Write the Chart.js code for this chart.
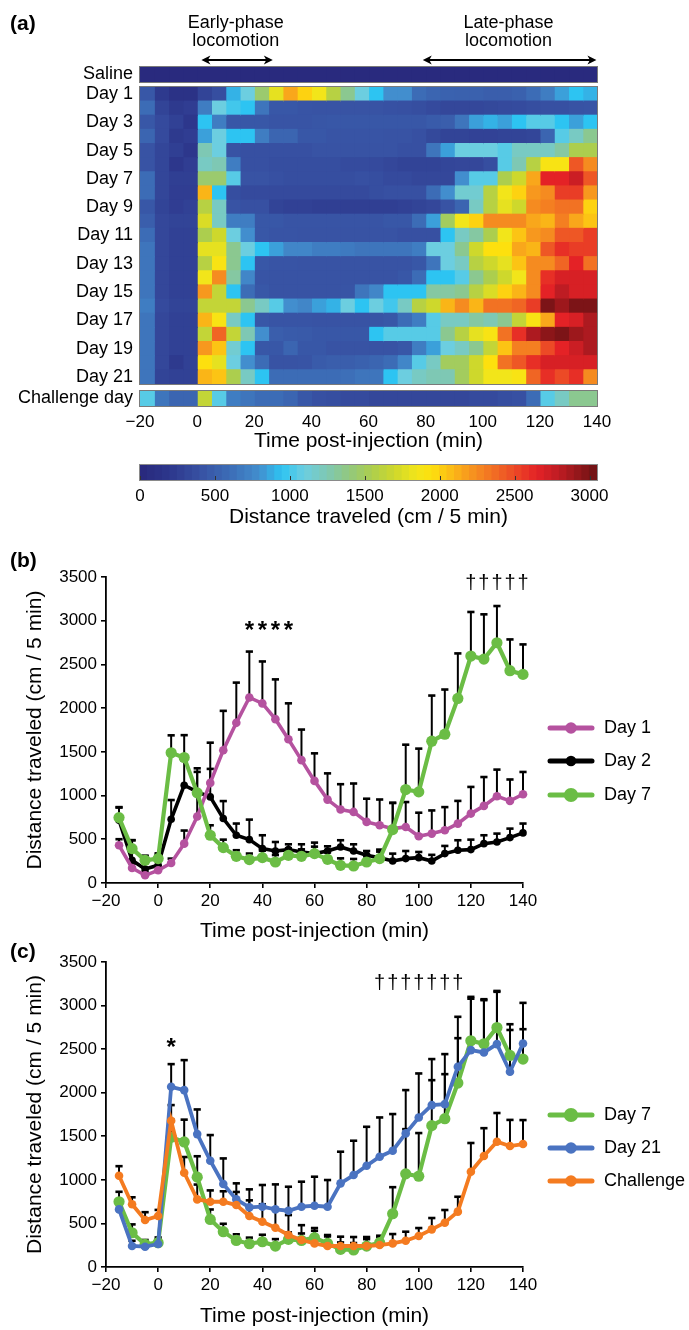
<!DOCTYPE html>
<html><head><meta charset="utf-8">
<script src="https://cdn.jsdelivr.net/npm/chart.js@4.4.1/dist/chart.umd.min.js"></script>
<style>
html,body{margin:0;padding:0;background:#fff;}
#wrap{position:relative;width:689px;height:1330px;overflow:hidden;font-family:'Liberation Sans',Arial,Helvetica,sans-serif;background:#fff;}
canvas{position:absolute;left:0;top:0;}
.plabel{position:absolute;left:10px;font-weight:bold;font-size:21px;line-height:1;color:#000;}
</style></head>
<body><div id="wrap">
<canvas id="cSaline" width="689" height="1330"></canvas>
<canvas id="cMain" width="689" height="1330"></canvas>
<canvas id="cChal" width="689" height="1330"></canvas>
<canvas id="cBar" width="689" height="1330"></canvas>
<canvas id="cB" width="689" height="1330"></canvas>
<canvas id="cC" width="689" height="1330"></canvas>
<div class="plabel" style="top:12px">(a)</div>
<div class="plabel" style="top:549px">(b)</div>
<div class="plabel" style="top:940px">(c)</div>
</div>
<script>
// ---------------- DATA ----------------
const timePoints = [-15,-10,-5,0,5,10,15,20,25,30,35,40,45,50,55,60,65,70,75,80,85,90,95,100,105,110,115,120,125,130,135,140];
const binStarts  = [-20,-15,-10,-5,0,5,10,15,20,25,30,35,40,45,50,55,60,65,70,75,80,85,90,95,100,105,110,115,120,125,130,135];
const timeTicks  = [-20,0,20,40,60,80,100,120,140];
const distTicks  = [0,500,1000,1500,2000,2500,3000,3500];
const dayLabels  = ['Day 1','Day 2','Day 3','Day 4','Day 5','Day 6','Day 7','Day 8','Day 9','Day 10','Day 11','Day 12','Day 13','Day 14','Day 15','Day 16','Day 17','Day 18','Day 19','Day 20','Day 21'];

// heatmap (cm / 5 min), one value per 5-min bin
const hmSaline = [30,30,30,30,30,30,30,30,30,30,30,30,30,30,30,30,30,30,30,30,30,30,30,30,30,30,30,30,30,30,30,30];
const hmDay01 = [450,220,130,130,300,380,900,1100,1450,1800,2150,2000,1850,1600,1350,1100,950,800,800,600,550,530,520,520,500,500,520,600,700,850,950,900];
const hmDay02 = [600,300,220,250,700,1100,1000,950,650,450,450,430,420,420,420,420,420,410,400,380,350,330,330,330,340,350,360,380,400,400,420,430];
const hmDay03 = [450,350,280,200,950,700,450,450,450,430,430,430,440,450,450,450,450,450,450,450,480,500,650,850,900,850,950,1050,1050,950,850,950];
const hmDay04 = [550,350,220,250,850,1100,950,950,700,550,550,450,450,430,430,430,430,420,420,400,340,300,300,290,290,300,300,320,550,1050,1200,1350];
const hmDay05 = [420,320,260,200,1250,1100,420,400,400,400,400,400,420,420,420,420,420,420,400,400,650,850,1100,1100,1100,1050,1200,1200,1200,1300,1550,1550];
const hmDay06 = [420,320,200,250,1200,1250,700,400,400,380,380,380,380,380,360,360,350,330,300,300,300,320,330,330,380,1050,1250,1600,1900,1900,2450,2250];
const hmDay07 = [600,320,260,260,1450,1450,1050,420,420,400,380,380,380,380,380,400,380,350,350,330,330,330,800,1050,1050,1550,1700,2150,2650,2650,2750,2450];
const hmDay08 = [600,320,250,250,2100,950,380,350,350,350,350,350,350,350,350,350,380,400,400,400,600,800,1150,1150,1600,1850,2000,2200,2250,2550,2550,2200];
const hmDay09 = [450,300,250,280,1600,1200,420,400,400,300,280,280,260,260,260,260,260,260,280,300,330,420,550,1200,1600,1800,1700,2250,2300,2350,2350,2000];
const hmDay10 = [500,330,300,300,1750,1200,700,700,450,450,430,430,430,430,430,430,430,450,450,600,850,1500,1850,2000,2250,2250,2250,2150,2100,2300,2150,2050];
const hmDay11 = [600,330,280,280,1550,1700,1100,800,450,430,430,420,420,420,420,420,420,420,400,400,400,950,1200,1300,1550,1850,2050,2200,2250,2450,2450,2550];
const hmDay12 = [650,330,280,280,1800,1800,1350,1100,950,850,750,750,700,700,680,650,650,650,650,700,1100,1100,1350,1700,1950,1950,2150,2100,2450,2600,2550,2550];
const hmDay13 = [650,330,280,280,1600,1900,1350,950,450,430,430,420,420,420,420,420,420,420,420,450,650,1100,1200,1600,1700,1800,2050,2250,2250,2400,2650,2350];
const hmDay14 = [650,330,280,280,1850,2250,1300,750,430,420,420,420,420,420,420,420,420,420,450,600,950,950,1050,1350,1550,1700,1850,2250,2600,2700,2700,2700];
const hmDay15 = [650,330,280,280,2200,1650,950,600,450,420,420,420,420,420,430,650,750,950,950,950,1300,1300,1350,1600,1750,2000,2100,2250,2650,2800,2700,2700];
const hmDay16 = [700,350,300,300,1650,1650,1650,1350,1200,1050,800,750,850,900,1100,950,1100,1000,1200,1600,1700,2100,2250,2100,2350,2350,2400,2550,3000,2900,3000,3000];
const hmDay17 = [650,330,280,280,2100,1900,1200,950,450,430,430,430,420,420,420,420,430,450,600,700,1050,1200,1200,1300,1250,1350,1650,1900,2150,2650,2700,2850];
const hmDay18 = [650,330,280,280,1650,2400,1650,1250,800,500,480,470,450,450,450,450,950,1050,1050,1050,1050,1350,1600,1800,1900,2350,2600,2850,2950,3000,2900,2850];
const hmDay19 = [650,330,280,280,2200,2050,1150,950,450,450,550,450,450,420,420,420,420,420,450,700,850,1100,1200,1350,1650,2050,2300,2300,2500,2650,2750,2850];
const hmDay20 = [650,330,220,280,1950,1800,1100,800,600,420,420,430,480,500,500,520,550,600,750,1050,1200,1500,1500,1700,1950,2350,2450,2600,2700,2700,2700,2700];
const hmDay21 = [650,300,280,280,2100,2050,1550,1200,950,600,600,600,600,600,620,650,650,950,1100,1200,1250,1250,1500,1700,1850,1850,1900,2400,2600,2500,2600,2250];
const hmChallenge = [1050,650,550,550,1650,1050,700,650,600,600,550,450,400,380,350,350,330,330,330,330,330,330,330,350,350,380,400,600,1050,1200,1350,1350];

const colorbarSteps = [0,50,100,150,200,250,300,350,400,450,500,550,600,650,700,750,800,850,900,950,1000,1050,1100,1150,1200,1250,1300,1350,1400,1450,1500,1550,1600,1650,1700,1750,1800,1850,1900,1950,2000,2050,2100,2150,2200,2250,2300,2350,2400,2450,2500,2550,2600,2650,2700,2750,2800,2850,2900,2950,3000];
const colorbarTicks = [0,500,1000,1500,2000,2500,3000];

// line panels: mean and +SEM
const day1Mean = [431,172,88,145,229,450,760,1145,1519,1832,2122,2054,1874,1645,1405,1168,954,840,813,699,660,622,641,534,565,603,679,794,882,992,939,1015];
const day1Sem  = [70,50,40,50,50,150,280,460,450,460,525,480,455,410,350,315,300,290,325,265,295,295,285,270,265,265,260,305,330,305,245,255];
const day2Mean = [718,260,160,202,729,1118,1042,985,737,546,496,393,366,382,355,336,366,412,366,317,290,252,279,290,252,336,374,382,450,469,519,573];
const day2Sem  = [150,230,150,120,220,280,270,320,200,134,229,153,103,61,88,126,54,77,77,49,92,84,87,65,70,88,115,114,96,96,103,107];
const day7Mean = [748,393,260,279,1489,1435,1031,546,405,305,267,290,240,317,305,336,271,202,195,240,279,611,1069,1042,1622,1702,2111,2596,2561,2748,2428,2386];
const day7Sem  = [115,96,50,60,200,256,240,114,91,70,70,80,80,80,80,80,80,80,80,80,80,305,513,495,522,511,515,504,512,420,358,343];
const day21Mean = [661,241,233,264,2068,2030,1525,1220,952,776,684,692,661,646,692,703,692,960,1055,1162,1265,1334,1533,1716,1858,1869,2298,2489,2462,2558,2240,2565];
const day21Sem  = [100,60,50,50,260,344,283,294,294,184,207,249,287,275,287,333,306,363,394,447,451,421,497,505,528,574,573,590,600,600,480,466];
const challengeMean = [1047,720,539,585,1678,1082,776,749,749,711,585,520,450,367,310,271,241,241,241,241,252,271,302,356,432,508,635,1093,1273,1437,1388,1411];
const challengeSem  = [110,80,90,70,180,180,170,130,120,150,180,200,210,229,170,176,126,107,103,103,92,107,103,91,130,146,171,330,320,330,300,275];

const starTimesB   = [35,40,45,50];
const daggerTimesB = [120,125,130,135,140];
const starTimesC   = [5];
const daggerTimesC = [85,90,95,100,105,110,115];

const heatRows = [hmDay01,hmDay02,hmDay03,hmDay04,hmDay05,hmDay06,hmDay07,hmDay08,hmDay09,hmDay10,hmDay11,hmDay12,hmDay13,hmDay14,hmDay15,hmDay16,hmDay17,hmDay18,hmDay19,hmDay20,hmDay21];

// ---------------- STYLE ----------------
const FONT = "'Liberation Sans', Arial, Helvetica, sans-serif";
Chart.defaults.font.family = FONT;
Chart.defaults.color = '#000';
const W = 689, H = 1330;

const cmapStops = [
 [0,[40,40,124]],[200,[45,55,140]],[400,[55,80,162]],[600,[60,108,182]],[800,[66,142,206]],
 [950,[45,196,242]],[1100,[108,206,224]],[1250,[126,200,180]],[1400,[146,200,126]],[1550,[172,206,78]],
 [1700,[206,216,44]],[1850,[242,229,26]],[1950,[253,224,14]],[2050,[252,196,20]],[2200,[247,152,30]],
 [2350,[242,114,35]],[2500,[236,74,38]],[2650,[228,34,38]],[2800,[190,28,35]],[2950,[140,22,25]],[3050,[108,18,20]]];
function heatColor(v){
  if (v <= cmapStops[0][0]) return 'rgb(' + cmapStops[0][1].join(',') + ')';
  for (let i = 1; i < cmapStops.length; i++){
    const [v1,c1] = cmapStops[i], [v0,c0] = cmapStops[i-1];
    if (v <= v1){
      const f = (v - v0) / (v1 - v0);
      return 'rgb(' + c0.map((c,k) => Math.round(c + (c1[k]-c)*f)).join(',') + ')';
    }
  }
  return 'rgb(' + cmapStops[cmapStops.length-1][1].join(',') + ')';
}
const fmtTick = v => (Number(v) < 0 ? '\u2212' + Math.abs(Number(v)) : String(Number(v)));

const base = { responsive:false, animation:false, devicePixelRatio:1, events:[] };

// ---------------- PLUGINS ----------------
const framePlugin = { id:'frame', afterDraw(chart, a, o){
  const {ctx, chartArea:c} = chart; ctx.save(); ctx.strokeStyle = o.color || '#7a7a7a'; ctx.lineWidth = 1;
  ctx.strokeRect(c.left - 0.5, c.top - 0.5, c.right - c.left + 1, c.bottom - c.top + 1); ctx.restore(); } };

const phasePlugin = { id:'phases', afterDraw(chart, a, o){
  const {ctx, scales:{x}} = chart; ctx.save(); ctx.fillStyle = '#000'; ctx.strokeStyle = '#000'; ctx.lineWidth = 2;
  ctx.font = '18px ' + FONT; ctx.textAlign = 'center'; ctx.textBaseline = 'middle';
  o.phases.forEach(p => {
    const xa = x.getPixelForValue(p.from), xb = x.getPixelForValue(p.to), xc = x.getPixelForValue(p.textAt);
    ctx.fillText(p.lines[0], xc, o.y1); ctx.fillText(p.lines[1], xc, o.y2);
    const ya = o.ya, h = 9, w = 4.5;
    ctx.beginPath(); ctx.moveTo(xa + 4, ya); ctx.lineTo(xb - 4, ya); ctx.stroke();
    ctx.beginPath(); ctx.moveTo(xa, ya); ctx.lineTo(xa + h, ya - w); ctx.lineTo(xa + h - 2.5, ya); ctx.lineTo(xa + h, ya + w); ctx.closePath(); ctx.fill();
    ctx.beginPath(); ctx.moveTo(xb, ya); ctx.lineTo(xb - h, ya - w); ctx.lineTo(xb - h + 2.5, ya); ctx.lineTo(xb - h, ya + w); ctx.closePath(); ctx.fill();
  });
  ctx.restore(); } };

const cbTickPlugin = { id:'cbTicks', afterDraw(chart){
  const {ctx, chartArea:c, scales:{x}} = chart; ctx.save(); ctx.strokeStyle = '#333'; ctx.lineWidth = 1;
  colorbarTicks.forEach(v => { const px = Math.round(x.getPixelForValue(v)) + 0.5;
    ctx.beginPath(); ctx.moveTo(px, c.bottom - 4); ctx.lineTo(px, c.bottom); ctx.stroke(); });
  ctx.restore(); } };

const errorBarPlugin = { id:'errorBars', beforeDatasetsDraw(chart){
  const {ctx, scales:{x, y}} = chart; ctx.save(); ctx.strokeStyle = '#000';
  chart.data.datasets.forEach(ds => {
    if (!ds.sem) return;
    ds.data.forEach((p, i) => {
      const px = x.getPixelForValue(p.x), py = y.getPixelForValue(p.y), pt = y.getPixelForValue(p.y + ds.sem[i]);
      ctx.lineWidth = 2; ctx.beginPath(); ctx.moveTo(px, py); ctx.lineTo(px, pt); ctx.stroke();
      ctx.lineWidth = 2.6; ctx.beginPath(); ctx.moveTo(px - 3.6, pt); ctx.lineTo(px + 3.6, pt); ctx.stroke();
    });
  });
  ctx.restore(); } };

const legendPlugin = { id:'lineLegend', afterDraw(chart, a, o){
  const ctx = chart.ctx; ctx.save();
  o.order.forEach((idx, k) => {
    const ds = chart.data.datasets[idx], y = o.ys[k];
    ctx.strokeStyle = ds.borderColor; ctx.lineWidth = 5; ctx.lineCap = 'round';
    ctx.beginPath(); ctx.moveTo(o.x0, y); ctx.lineTo(o.x1, y); ctx.stroke();
    ctx.fillStyle = ds.borderColor; ctx.beginPath(); ctx.arc((o.x0 + o.x1) / 2, y, ds.pointRadius + 1.5, 0, Math.PI * 2); ctx.fill();
    ctx.fillStyle = '#000'; ctx.font = '18px ' + FONT; ctx.textAlign = 'left'; ctx.textBaseline = 'middle';
    ctx.fillText(ds.label, o.xt, y);
  });
  ctx.restore(); } };

const marksPlugin = { id:'sigMarks', afterDatasetsDraw(chart, a, o){
  const {ctx, scales:{x, y}} = chart; ctx.save(); ctx.fillStyle = '#000'; ctx.textAlign = 'center'; ctx.textBaseline = 'middle';
  o.groups.forEach(g => { ctx.font = g.font;
    g.times.forEach(t => ctx.fillText(g.text, x.getPixelForValue(t), y.getPixelForValue(g.level) + (g.dy || 0))); });
  ctx.restore(); } };

// ---------------- HEATMAP ----------------
function heatChart(id, labels, rows, area, opt){
  const datasets = binStarts.map((b, i) => ({
    data: rows.map(() => [b, timePoints[i]]),
    backgroundColor: rows.map(r => heatColor(r[i])),
    borderWidth: 0, grouped: false, barPercentage: 1, categoryPercentage: 1, inflateAmount: 0.6
  }));
  const xH = opt.xH || 0;
  return new Chart(document.getElementById(id), {
    type: 'bar',
    data: { labels, datasets },
    plugins: [framePlugin].concat(opt.plugins || []),
    options: Object.assign({}, base, {
      indexAxis: 'y',
      layout: { padding: { left: 0, top: area.top, right: W - area.right, bottom: H - area.bottom - xH } },
      plugins: Object.assign({ legend:{display:false}, tooltip:{enabled:false}, frame:{color:'#7a7a7a'} }, opt.pluginOpts || {}),
      scales: {
        x: { type:'linear', min:-20, max:140, display: !!opt.showX,
             afterBuildTicks: s => { s.ticks = timeTicks.map(v => ({value:v})); },
             afterFit: s => { s.height = xH; },
             grid: { display:false, drawTicks:false }, border: { display:false },
             ticks: { font:{size:17}, padding:6, maxRotation:0, autoSkip:false, callback: fmtTick },
             title: { display:true, text:'Time post-injection (min)', font:{size:21}, padding:{top:0, bottom:0} } },
        y: { type:'category', afterFit: s => { s.width = area.left; },
             grid: { display:false, drawTicks:false }, border: { display:false },
             ticks: { font:{size:18}, padding:7, autoSkip:false, callback: opt.yCb } }
      }
    })
  });
}

heatChart('cSaline', ['Saline'], [hmSaline], {left:140, right:597, top:67, bottom:82}, {
  yCb: (v, i) => 'Saline',
  plugins: [phasePlugin],
  pluginOpts: { phases: { y1: 23, y2: 41, ya: 60, phases: [
    { from: 1.5, to: 26.5, textAt: 13.5, lines: ['Early-phase','locomotion'] },
    { from: 79, to: 139.8, textAt: 109, lines: ['Late-phase','locomotion'] } ] } }
});
heatChart('cMain', dayLabels, heatRows, {left:140, right:597, top:87, bottom:384}, {
  yCb: (v, i) => (i % 2 === 0 ? dayLabels[i] : '')
});
heatChart('cChal', ['Challenge day'], [hmChallenge], {left:140, right:597, top:391, bottom:406}, {
  yCb: (v, i) => 'Challenge day', showX: true, xH: 47.6
});

// ---------------- COLORBAR ----------------
new Chart(document.getElementById('cBar'), {
  type: 'bar',
  data: { datasets: [{ data: colorbarSteps.map(v => ({x: v + 25, y: 1})), backgroundColor: colorbarSteps.map(v => heatColor(v + 25)),
    borderWidth: 0, barPercentage: 1, categoryPercentage: 1, inflateAmount: 0.6 }] },
  plugins: [framePlugin, cbTickPlugin],
  options: Object.assign({}, base, {
    layout: { padding: { left: 140, top: 465, right: W - 597, bottom: H - 480 - 49.6 } },
    plugins: { legend:{display:false}, tooltip:{enabled:false}, frame:{color:'#8a8a8a'} },
    scales: {
      x: { type:'linear', min:0, max:3050, offset:false,
           afterBuildTicks: s => { s.ticks = colorbarTicks.map(v => ({value:v})); },
           afterFit: s => { s.height = 49.6; },
           grid: { display:false, drawTicks:false }, border: { display:false },
           ticks: { font:{size:17}, padding:6, maxRotation:0, autoSkip:false, callback: fmtTick },
           title: { display:true, text:'Distance traveled (cm / 5 min)', font:{size:21}, padding:{top:0, bottom:0} } },
      y: { min:0, max:1, display:false }
    }
  })
});

// ---------------- LINE PANELS ----------------
function lineChart(id, series, area, legendOpts, markGroups){
  const xH = area.titleY + 12.6 - area.bottom;
  const datasets = series.map(s => ({
    label: s.label, data: timePoints.map((t, i) => ({x: t, y: s.mean[i]})), sem: s.sem,
    borderColor: s.color, backgroundColor: s.color, pointBackgroundColor: s.color, pointBorderWidth: 0,
    pointRadius: s.r, borderWidth: s.w, tension: 0, order: s.order, clip: false
  }));
  const axisGrid = { display:true, drawOnChartArea:false, drawTicks:true, tickLength:5, color:'#000', lineWidth:1.6 };
  const axisBorder = { display:true, color:'#000', width:1.8 };
  return new Chart(document.getElementById(id), {
    type: 'line',
    data: { datasets },
    plugins: [errorBarPlugin, legendPlugin, marksPlugin],
    options: Object.assign({}, base, {
      layout: { padding: { left: 0, top: area.top, right: W - area.right, bottom: H - area.bottom - xH } },
      plugins: { legend:{display:false}, tooltip:{enabled:false}, lineLegend: legendOpts, sigMarks: { groups: markGroups } },
      scales: {
        x: { type:'linear', min:-20, max:140,
             afterBuildTicks: s => { s.ticks = timeTicks.map(v => ({value:v})); },
             afterFit: s => { s.height = xH; },
             grid: axisGrid, border: axisBorder,
             ticks: { font:{size:17}, padding:3.5, maxRotation:0, autoSkip:false, callback: fmtTick },
             title: { display:true, text:'Time post-injection (min)', font:{size:21}, padding:{top:0, bottom:0} } },
        y: { type:'linear', min:0, max:3500,
             afterBuildTicks: s => { s.ticks = distTicks.map(v => ({value:v})); },
             afterFit: s => { s.width = area.left; },
             grid: axisGrid, border: axisBorder,
             ticks: { font:{size:17}, padding:4, autoSkip:false, callback: fmtTick },
             title: { display:true, text:'Distance traveled (cm / 5 min)', font:{size:21}, padding:{top:22.4, bottom:0} } }
      }
    })
  });
}

lineChart('cB', [
  { label:'Day 1', mean: day1Mean, sem: day1Sem, color:'#b5529f', r:4.3, w:3.6, order:1 },
  { label:'Day 2', mean: day2Mean, sem: day2Sem, color:'#000000', r:3.8, w:3.6, order:2 },
  { label:'Day 7', mean: day7Mean, sem: day7Sem, color:'#6bbd45', r:5.6, w:4.2, order:0 }
], { left:106, right:523, top:577, bottom:883, titleY:931.7 },
   { order:[0,1,2], ys:[728,761,795], x0:550, x1:592, xt:604 },
   [ { text:'*', times: starTimesB, level: 2950, dy: 6, font: 'bold 24px ' + FONT },
     { text:'\u2020', times: daggerTimesB, level: 3430, dy: 0, font: '20px ' + FONT } ]);

lineChart('cC', [
  { label:'Day 7', mean: day7Mean, sem: day7Sem, color:'#6bbd45', r:5.6, w:4.2, order:2 },
  { label:'Day 21', mean: day21Mean, sem: day21Sem, color:'#4a73c1', r:4.3, w:3.8, order:1 },
  { label:'Challenge', mean: challengeMean, sem: challengeSem, color:'#f47b20', r:4.3, w:3.8, order:0 }
], { left:106, right:523, top:962, bottom:1267, titleY:1316.7 },
   { order:[0,1,2], ys:[1115,1148,1181], x0:550, x1:592, xt:604 },
   [ { text:'*', times: starTimesC, level: 2580, dy: 6, font: 'bold 24px ' + FONT },
     { text:'\u2020', times: daggerTimesC, level: 3250, dy: 0, font: '20px ' + FONT } ]);
</script>
</body></html>
